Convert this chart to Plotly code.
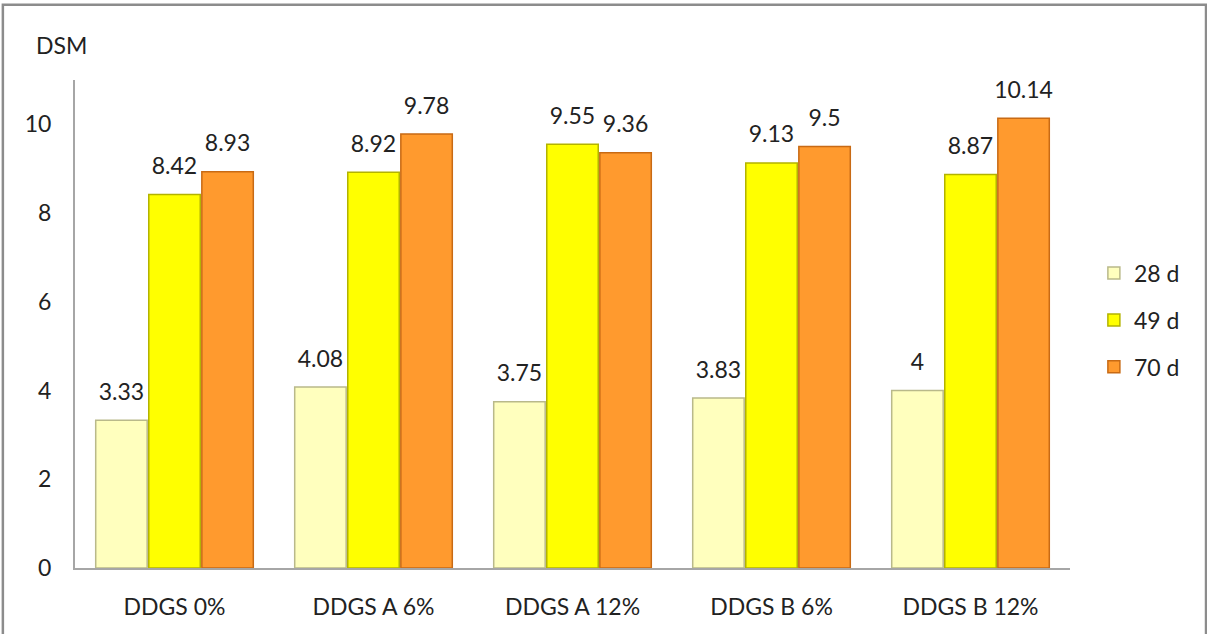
import plotly.graph_objects as go

# DSM by diet and age
categories = ["DDGS 0%", "DDGS A 6%", "DDGS A 12%", "DDGS B 6%", "DDGS B 12%"]
series_names = ["28 d", "49 d", "70 d"]
dsm_28d = [3.33, 4.08, 3.75, 3.83, 4]
dsm_49d = [8.42, 8.92, 9.55, 9.13, 8.87]
dsm_70d = [8.93, 9.78, 9.36, 9.5, 10.14]
y_ticks = [0, 2, 4, 6, 8, 10]

fills = ["#FFFFBE", "#FFFF00", "#FF9A2E"]
edges = ["#B9B98A", "#B3B300", "#C86A14"]
FONT = "Lato, Calibri, Arial, sans-serif"
FS = 23

fig = go.Figure()
for i, (name, vals) in enumerate(zip(series_names, [dsm_28d, dsm_49d, dsm_70d])):
    fig.add_trace(go.Bar(
        x=categories, y=vals, name=name,
        legendgroup=name, offsetgroup=name,
        marker=dict(color=fills[i], line=dict(color=edges[i], width=1.5)),
    ))
    # value labels sitting a little above each bar
    fig.add_trace(go.Scatter(
        x=categories, y=vals, mode="markers+text",
        offsetgroup=name, showlegend=False, hoverinfo="skip",
        marker=dict(size=22, opacity=0),
        text=[f"{v:g}" for v in vals], textposition="top center",
        textfont=dict(size=FS, color="#222222", family=FONT),
        cliponaxis=False,
    ))

fig.update_layout(
    width=1207, height=634,
    margin=dict(l=75, r=137, t=80, b=66),
    paper_bgcolor="white", plot_bgcolor="white",
    barmode="group", bargap=0.2, bargroupgap=0.03,
    scattermode="group", scattergap=0.2,
    font=dict(family=FONT, size=FS, color="#222222"),
    showlegend=True,
    legend=dict(x=1.024, y=0.508, xanchor="left", yanchor="middle",
                font=dict(size=FS), tracegroupgap=14,
                itemwidth=30, bgcolor="rgba(0,0,0,0)"),
    xaxis=dict(showline=True, linecolor="#A6A6A6", linewidth=1.5,
               ticks="", ticklabelstandoff=18, showgrid=False),
    yaxis=dict(range=[0, 11], tickvals=y_ticks, showgrid=False,
               showline=True, linecolor="#A6A6A6", linewidth=2,
               ticks="", ticklabelstandoff=17, zeroline=False),
    annotations=[dict(text="DSM", xref="paper", yref="paper",
                      x=-0.014, y=1.072, xanchor="center", yanchor="middle",
                      showarrow=False, font=dict(size=FS, family=FONT))],
    shapes=[dict(type="rect", xref="paper", yref="paper",
                 x0=-0.0725, x1=1.1367, y0=-0.2, y1=1.154,
                 line=dict(color="#8C8C8C", width=2.5))],
)

fig.write_html("out.html")
